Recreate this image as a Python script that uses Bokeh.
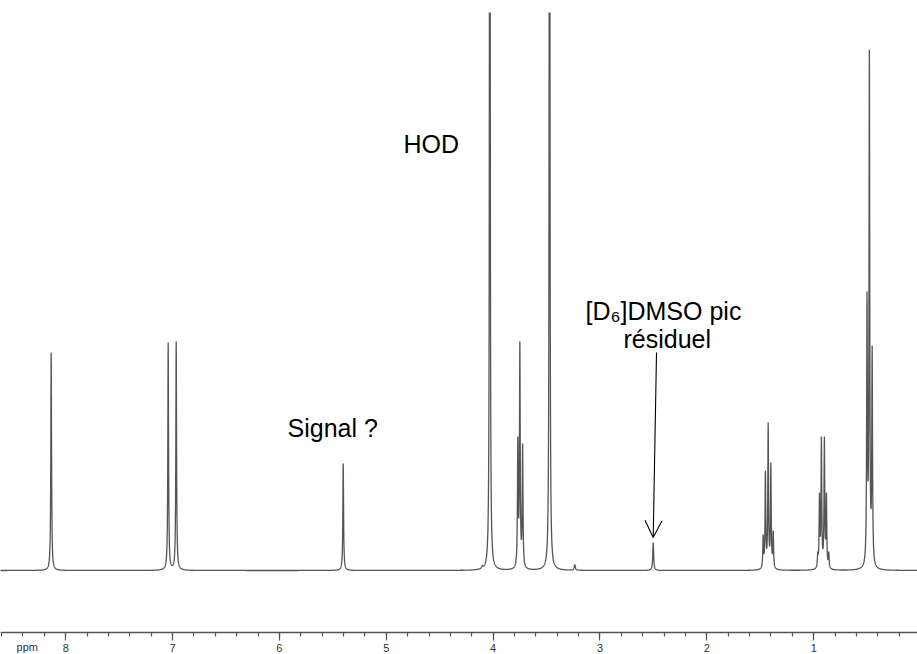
import numpy as np
from bokeh.plotting import figure
from bokeh.models import Range1d, SingleIntervalTicker, Label, Arrow, OpenHead, ColumnDataSource
from bokeh.embed import file_html
from bokeh.resources import INLINE

# ---- data ------------------------------------------------------------------
# chemical shift of each resolved line (ppm)
peak_ppm = [8.136, 7.041, 6.966, 5.403, 4.102, 4.031,
            3.769, 3.750, 3.724, 3.472, 3.236, 2.502,
            1.473, 1.452, 1.426, 1.401, 1.379,
            0.962, 0.946, 0.928, 0.900, 0.881, 0.859,
            0.501, 0.479, 0.453]
# apparent height of each line above the baseline (intensity units)
peak_height = [218, 228, 229, 107, 5, 1500,
               134, 229, 127, 1500, 6, 28,
               36, 100, 148, 108, 40,
               19, 78, 134, 134, 78, 19,
               279, 521, 225]
# half width at half height of each line (ppm)
peak_hwhm = [0.004, 0.004, 0.004, 0.004, 0.006, 0.003,
             0.004, 0.004, 0.004, 0.003, 0.006, 0.005,
             0.004, 0.004, 0.004, 0.004, 0.004,
             0.004, 0.004, 0.004, 0.004, 0.004, 0.004,
             0.004, 0.004, 0.004]

tick_interval = 1.0
annotations = ["HOD", "Signal ?", "[D\u2086]DMSO pic", "r\u00e9siduel"]

# ---- build the trace from the line list (Lorentzian lines) ------------------
pos = np.array(peak_ppm)
hw = np.array(peak_hwhm)
obs = np.array(peak_height, dtype=float)
A = hw[None, :] ** 2 / ((pos[:, None] - pos[None, :]) ** 2 + hw[None, :] ** 2)
amp = np.linalg.solve(A, obs)

grid = np.unique(np.concatenate([np.arange(0.0, 8.65, 0.001), pos]))
trace = (amp[None, :] * hw[None, :] ** 2 /
         ((grid[:, None] - pos[None, :]) ** 2 + hw[None, :] ** 2)).sum(axis=1)
src = ColumnDataSource(dict(ppm=grid, intensity=trace))

# ---- figure -----------------------------------------------------------------
p = figure(width=917, height=654, output_backend="svg", toolbar_location=None,
           x_range=Range1d(8.6103, 0.0286), y_range=Range1d(-84, 558),
           y_axis_location=None, min_border_left=0, min_border_right=0,
           min_border_top=12, min_border_bottom=0)
p.outline_line_color = None
p.grid.visible = False
p.background_fill_color = "white"
p.border_fill_color = "white"

p.line("ppm", "intensity", source=src, line_color="#555555", line_width=1.3)

ax = p.xaxis[0]
ax.fixed_location = -61.5
ax.ticker = SingleIntervalTicker(interval=tick_interval, num_minor_ticks=5)
ax.axis_line_color = "#555555"
ax.axis_line_width = 1.3
ax.major_tick_line_color = "#555555"
ax.minor_tick_line_color = "#555555"
ax.major_tick_line_width = 1.2
ax.minor_tick_line_width = 1.2
ax.major_tick_in = 0
ax.major_tick_out = 8
ax.minor_tick_in = 0
ax.minor_tick_out = 4
ax.major_label_text_font = "Liberation Sans"
ax.major_label_text_font_size = "11px"
ax.major_label_text_color = "#333333"
ax.major_label_standoff = 4

font = "Liberation Sans"
fs = "25px"
p.add_layout(Label(x=4.839, y=427, text=annotations[0], text_font=font,
                   text_font_size=fs, text_color="black",
                   text_baseline="alphabetic", text_align="left"))
p.add_layout(Label(x=5.924, y=143, text=annotations[1], text_font=font,
                   text_font_size=fs, text_color="black",
                   text_baseline="alphabetic", text_align="left"))
p.add_layout(Label(x=3.136, y=260, text=annotations[2], text_font=font,
                   text_font_size=fs, text_color="black",
                   text_baseline="alphabetic", text_align="left"))
p.add_layout(Label(x=2.780, y=232, text=annotations[3], text_font=font,
                   text_font_size=fs, text_color="black",
                   text_baseline="alphabetic", text_align="left"))
p.add_layout(Label(x=8.460, y=-76, text="ppm", text_font=font,
                   text_font_size="11px", text_color="#333333",
                   text_baseline="alphabetic", text_align="left"))

p.add_layout(Arrow(end=OpenHead(size=17, line_color="black", line_width=1.1),
                   x_start=2.471, y_start=218, x_end=2.502, y_end=33,
                   line_color="black", line_width=1.1))

open("out.html", "w").write(file_html(p, INLINE))
